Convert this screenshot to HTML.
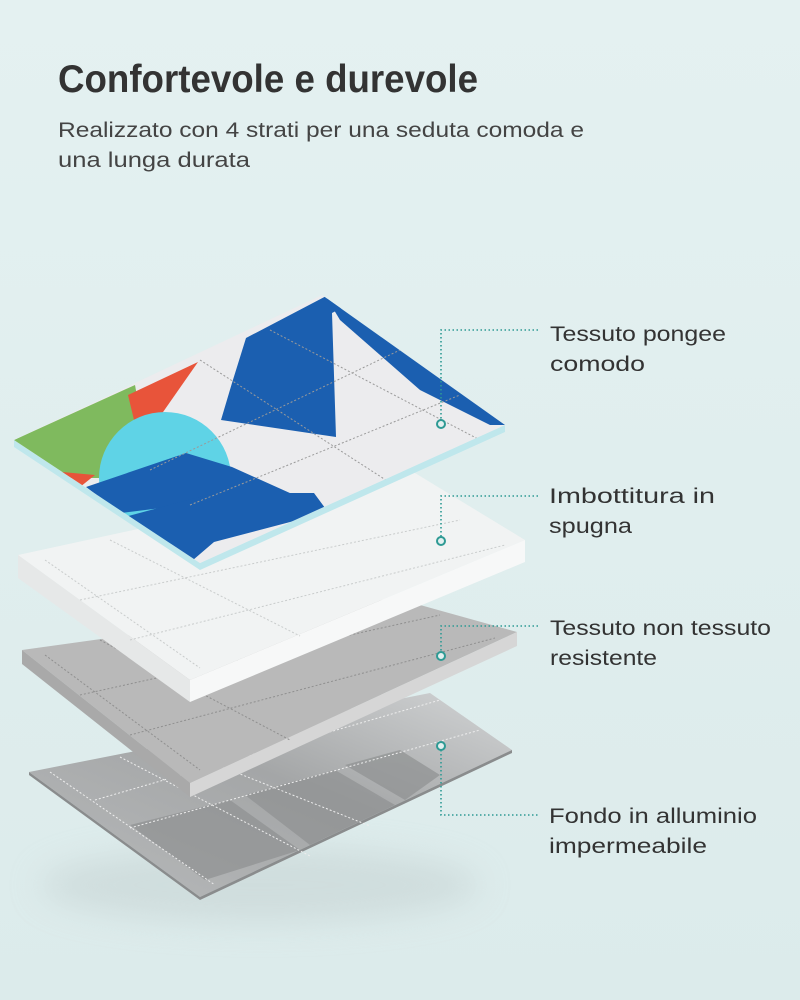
<!DOCTYPE html>
<html><head><meta charset="utf-8"><style>
html,body{margin:0;padding:0;background:#e3f0f0;}
svg{display:block}
</style></head><body>
<svg width="800" height="1000" viewBox="0 0 800 1000" xmlns="http://www.w3.org/2000/svg">
<defs>
<filter id="blur" x="-50%" y="-50%" width="200%" height="200%"><feGaussianBlur stdDeviation="16"/></filter>
<clipPath id="topclip"><polygon points="14,440 322,295 505,425 200,563"/></clipPath>
<linearGradient id="bg" x1="0" y1="0" x2="0" y2="1"><stop offset="0" stop-color="#e4f1f1"/><stop offset="1" stop-color="#dcebeb"/></linearGradient>
<linearGradient id="alu" x1="1" y1="0" x2="0" y2="1"><stop offset="0" stop-color="#d2d4d5"/><stop offset="0.45" stop-color="#a4a6a7"/><stop offset="1" stop-color="#b8babb"/></linearGradient>
</defs>
<rect width="800" height="1000" fill="url(#bg)"/>

<text x="58" y="92" font-family="Liberation Sans, sans-serif" font-weight="bold" font-size="39" fill="#333" textLength="420" lengthAdjust="spacingAndGlyphs">Confortevole e durevole</text>
<text x="58" y="137" font-family="Liberation Sans, sans-serif" font-size="21" fill="#444" textLength="526" lengthAdjust="spacingAndGlyphs">Realizzato con 4 strati per una seduta comoda e</text>
<text x="58" y="167" font-family="Liberation Sans, sans-serif" font-size="21" fill="#444" textLength="192" lengthAdjust="spacingAndGlyphs">una lunga durata</text>

<ellipse cx="260" cy="885" rx="220" ry="38" fill="#c2cfcf" opacity="0.5" filter="url(#blur)"/>

<polygon points="29,772 430,693 512,750 200,897" fill="url(#alu)"/>
<polygon points="29,772 200,897 512,750 512,753 200,900 29,775" fill="#8a8c8d"/>
<g fill="#8f9192" opacity="0.7">
<polygon points="130,825 230,800 300,850 205,880"/>
<polygon points="245,795 335,770 395,805 310,845"/>
<polygon points="345,765 400,750 440,775 405,800"/>
</g>
<g stroke="#eeeeee" stroke-width="1" stroke-dasharray="2,2" fill="none">
<line x1="50" y1="772" x2="215" y2="885"/>
<line x1="120" y1="757" x2="310" y2="856"/>
<line x1="170" y1="746" x2="370" y2="826"/>
<line x1="95" y1="800" x2="440" y2="700"/>
<line x1="130" y1="828" x2="480" y2="730"/>
</g>

<polygon points="22,650 395,598 517,632 190,783" fill="#b9b9b9"/>
<polygon points="22,650 190,783 190,797 22,664" fill="#a9a9a9"/>
<polygon points="190,783 517,632 517,646 190,797" fill="#d6d6d6"/>
<g stroke="#8f8f8f" stroke-width="1" stroke-dasharray="2,2" fill="none">
<line x1="45" y1="655" x2="200" y2="770"/>
<line x1="100" y1="640" x2="290" y2="740"/>
<line x1="80" y1="695" x2="440" y2="615"/>
<line x1="130" y1="735" x2="495" y2="638"/>
</g>

<polygon points="18,555 410,470 525,540 190,680" fill="#f1f3f3"/>
<polygon points="18,555 190,680 190,702 18,578" fill="#e6e8e8"/>
<polygon points="190,680 525,540 525,562 190,702" fill="#f7f8f8"/>
<g stroke="#c9cccc" stroke-width="1" stroke-dasharray="2,2" fill="none">
<line x1="45" y1="560" x2="200" y2="668"/>
<line x1="110" y1="540" x2="300" y2="636"/>
<line x1="80" y1="600" x2="460" y2="520"/>
<line x1="130" y1="640" x2="505" y2="545"/>
</g>

<polygon points="14,440 200,563 505,425 505,432 200,570 14,447" fill="#bfe7ec"/>
<g clip-path="url(#topclip)">
<rect x="0" y="280" width="520" height="300" fill="#ececee"/>
<polygon points="14,440 135,385 145,440 118,478 40,478" fill="#7fba5e"/>
<polygon points="128,395 198,362 140,445" fill="#e8543a"/>
<polygon points="40,470 95,475 70,495" fill="#e8543a"/>
<circle cx="165" cy="478" r="66" fill="#5fd3e6"/>
<polygon points="246,338 332,293 357,300 332,313 336,437 221,420 232,383" fill="#1b5fb0"/>
<polygon points="322,290 510,425 490,425 420,390 340,320" fill="#1b5fb0"/>
<polygon points="86,487 186,453 232,467 321,507 250,497 121,513" fill="#1b5fb0"/>
<polygon points="121,518 214,493 314,493 328,512 214,542 193,560 140,540" fill="#1b5fb0"/>
<g stroke="#9a9a9a" stroke-width="1" stroke-dasharray="2,2" fill="none">
<line x1="200" y1="360" x2="440" y2="515"/>
<line x1="270" y1="330" x2="480" y2="440"/>
<line x1="150" y1="470" x2="400" y2="350"/>
<line x1="190" y1="505" x2="460" y2="395"/>
</g>
</g>

<g stroke="#2e9a94" stroke-width="1.6" stroke-dasharray="1.5,2.5" fill="none">
<polyline points="538,330 441,330 441,420"/>
<polyline points="538,496 441,496 441,537"/>
<polyline points="538,626 441,626 441,652"/>
<polyline points="441,750 441,815 538,815"/>
</g>
<g stroke="#2e9a94" stroke-width="2" fill="#e3f0f0">
<circle cx="441" cy="424" r="4"/>
<circle cx="441" cy="541" r="4"/>
<circle cx="441" cy="656" r="4"/>
<circle cx="441" cy="746" r="4"/>
</g>

<g font-family="Liberation Sans, sans-serif" font-size="21" fill="#333">
<text x="550" y="341" textLength="176" lengthAdjust="spacingAndGlyphs">Tessuto pongee</text>
<text x="550" y="371" textLength="95" lengthAdjust="spacingAndGlyphs">comodo</text>
<text x="549" y="503" textLength="166" lengthAdjust="spacingAndGlyphs">Imbottitura in</text>
<text x="549" y="533" textLength="83" lengthAdjust="spacingAndGlyphs">spugna</text>
<text x="550" y="635" textLength="221" lengthAdjust="spacingAndGlyphs">Tessuto non tessuto</text>
<text x="550" y="665" textLength="107" lengthAdjust="spacingAndGlyphs">resistente</text>
<text x="549" y="823" textLength="208" lengthAdjust="spacingAndGlyphs">Fondo in alluminio</text>
<text x="549" y="853" textLength="158" lengthAdjust="spacingAndGlyphs">impermeabile</text>
</g>
</svg>
</body></html>
